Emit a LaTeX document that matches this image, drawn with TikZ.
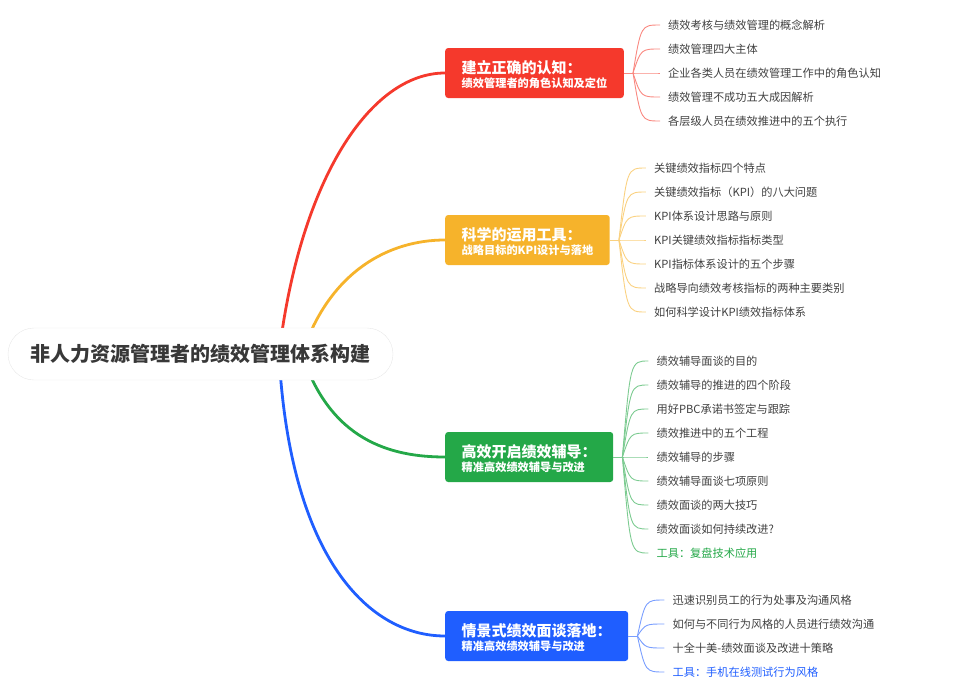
\documentclass[tikz,border=0pt]{standalone}
\usepackage{fontspec}
\setmainfont{Noto Sans CJK SC}
\usetikzlibrary{calc,positioning,backgrounds}

\definecolor{cred}{HTML}{F5392C}
\definecolor{cyellow}{HTML}{F6B32B}
\definecolor{cgreen}{HTML}{24A848}
\definecolor{cblue}{HTML}{1F5EFF}
\definecolor{ctext}{HTML}{404040}

\newcommand{\boxtext}[2]{{\fontsize{15}{18}\selectfont\rule{0pt}{17pt}#1}\\[2pt]{\fontsize{11.2}{14}\selectfont #2}}

\begin{document}
\begin{tikzpicture}[
                x=1pt, y=-1pt,
                topic/.style={rounded corners=26pt,draw=black!9,fill=white,minimum width=385pt,minimum height=52pt,
                    font=\fontsize{20}{24}\selectfont\bfseries,text=black!78},
                branch/.style={fill=#1,rounded corners=3pt,text=white,font=\bfseries,align=left,anchor=west,
                    inner xsep=16.5pt,minimum height=50pt},
                leaf/.style={anchor=west,inner xsep=8pt,inner ysep=1pt,font=\fontsize{11.2}{13}\selectfont,text=ctext},
                trunk/.style={draw=#1,line width=2.8pt},
                twig/.style={draw=#1!60,line width=0.9pt}
            ]
                \useasboundingbox (0,0) rectangle (962,699);
                \node[topic] (root) at (200.5,354) {非人力资源管理者的绩效管理体系构建};
                \coordinate (rootr) at (279,354);
                \coordinate (rooty) at (302,354);
                % four main topics
                \node[branch=cred]    (know)  at (445,73)  {\boxtext{建立正确的认知：}{绩效管理者的角色认知及定位}};
                \node[branch=cyellow] (tool)  at (445,240) {\boxtext{科学的运用工具：}{战略目标的KPI设计与落地}};
                \node[branch=cgreen]  (coach) at (445,457) {\boxtext{高效开启绩效辅导：}{精准高效绩效辅导与改进}};
                \node[branch=cblue]   (talk)  at (445,636) {\boxtext{情景式绩效面谈落地：}{精准高效绩效辅导与改进}};
                \coordinate (knowb)  at ($(know.east)+(9,0)$);
                \coordinate (toolb)  at ($(tool.east)+(9,0)$);
                \coordinate (coachb) at ($(coach.east)+(9,0)$);
                \coordinate (talkb)  at ($(talk.east)+(9,0)$);
                % leaves
                \foreach \t [count=\i] in {
                    {绩效考核与绩效管理的概念解析},
                    {绩效管理四大主体},
                    {企业各类人员在绩效管理工作中的角色认知},
                    {绩效管理不成功五大成因解析},
                    {各层级人员在绩效推进中的五个执行}}
                    \node[leaf] (know\i) at ($(knowb)+(27,{(\i-3)*24})$) {\t};
                \foreach \t [count=\i] in {
                    {关键绩效指标四个特点},
                    {关键绩效指标（KPI）的八大问题},
                    {KPI体系设计思路与原则},
                    {KPI关键绩效指标指标类型},
                    {KPI指标体系设计的五个步骤},
                    {战略导向绩效考核指标的两种主要类别},
                    {如何科学设计KPI绩效指标体系}}
                    \node[leaf] (tool\i) at ($(toolb)+(27,{(\i-4)*24})$) {\t};
                \foreach \t [count=\i] in {
                    {绩效辅导面谈的目的},
                    {绩效辅导的推进的四个阶段},
                    {用好PBC承诺书签定与跟踪},
                    {绩效推进中的五个工程},
                    {绩效辅导的步骤},
                    {绩效辅导面谈七项原则},
                    {绩效面谈的两大技巧},
                    {绩效面谈如何持续改进?},
                    {\textcolor{cgreen}{工具：复盘技术应用}}}
                    \node[leaf] (coach\i) at ($(coachb)+(26,{(\i-5)*24})$) {\t};
                \foreach \t [count=\i] in {
                    {迅速识别员工的行为处事及沟通风格},
                    {如何与不同行为风格的人员进行绩效沟通},
                    {十全十美-绩效面谈及改进十策略},
                    {\textcolor{cblue}{工具：手机在线测试行为风格}}}
                    \node[leaf] (talk\i) at ($(talkb)+(27,{(\i-2.5)*24})$) {\t};
                % connectors
                \begin{scope}[on background layer]
                    \draw[trunk=cred]    (rootr) .. controls +(21,-174) and +(-75,0) .. (know.west);
                    \draw[trunk=cyellow] (rooty) .. controls +(28,-84) and +(-55,0) .. (tool.west);
                    \draw[trunk=cgreen]  (rooty) .. controls +(28,86) and +(-55,0) .. (coach.west);
                    \draw[trunk=cblue]   (rootr) .. controls +(11,206) and +(-75,0) .. (talk.west);
                \end{scope}
                \draw[twig=cred] (know.east) -- (knowb);
                \draw[twig=cyellow] (tool.east) -- (toolb);
                \draw[twig=cgreen] (coach.east) -- (coachb);
                \draw[twig=cblue] (talk.east) -- (talkb);
                \foreach \i in {1,...,5}
                    \draw[twig=cred] (knowb) .. controls ($(knowb |- know\i.west)+(8,0)$) .. (know\i.west);
                \foreach \i in {1,...,7}
                    \draw[twig=cyellow] (toolb) .. controls ($(toolb |- tool\i.west)+(8,0)$) .. (tool\i.west);
                \foreach \i in {1,...,9}
                    \draw[twig=cgreen] (coachb) .. controls ($(coachb |- coach\i.west)+(8,0)$) .. (coach\i.west);
                \foreach \i in {1,...,4}
                    \draw[twig=cblue] (talkb) .. controls ($(talkb |- talk\i.west)+(8,0)$) .. (talk\i.west);
            \end{tikzpicture}
\end{document}
